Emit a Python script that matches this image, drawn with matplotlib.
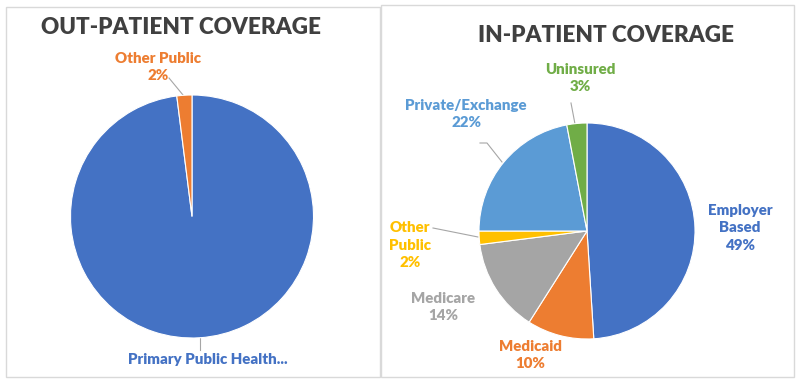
import matplotlib.pyplot as plt
from matplotlib.patches import Rectangle

plt.rcParams['font.family'] = ['Lato', 'DejaVu Sans']

# Out-patient coverage
out_labels = ['Primary Public Health...', 'Other Public']
out_values = [98, 2]
out_colors = ['#4472C4', '#ED7D31']

# In-patient coverage
in_labels = ['Employer\nBased', 'Medicaid', 'Medicare', 'Other\nPublic', 'Private/Exchange', 'Uninsured']
in_values = [49, 10, 14, 2, 22, 3]
in_colors = ['#4472C4', '#ED7D31', '#A5A5A5', '#FFC000', '#5B9BD5', '#70AD47']

W, H = 806, 387
fig = plt.figure(figsize=(W / 100, H / 100), dpi=100)


def pie_axes(cx, cy, r):
    # cx, cy, r in pixels (y from the top)
    return fig.add_axes([(cx - r) / W, (H - cy - r) / H, 2 * r / W, 2 * r / H])


def fit(ax):
    ax.set_xlim(-1, 1)
    ax.set_ylim(-1, 1)
    ax.axis('off')


# overlay in pixel coordinates for boxes, titles, labels, leader lines
ov = fig.add_axes([0, 0, 1, 1])
ov.set_xlim(0, W)
ov.set_ylim(H, 0)
ov.axis('off')
ov.add_patch(Rectangle((6, 7), 374, 370, fill=False, ec='#d9d9d9', lw=1))
ov.add_patch(Rectangle((381, 5), 413, 372, fill=False, ec='#d9d9d9', lw=1))

ax1 = pie_axes(192, 216.5, 121.5)
ax1.pie(out_values, colors=out_colors, startangle=90, counterclock=False, radius=1,
        wedgeprops=dict(edgecolor='white', linewidth=0.8))
fit(ax1)

ax2 = pie_axes(587, 231, 108)
ax2.pie(in_values, colors=in_colors, startangle=90, counterclock=False, radius=1,
        wedgeprops=dict(edgecolor='white', linewidth=0.8))
fit(ax2)

title_kw = dict(fontsize=16.2, fontweight='heavy', color='#404040', ha='center', va='center')
ov.text(181, 28, 'OUT-PATIENT COVERAGE', **title_kw)
ov.text(606, 36, 'IN-PATIENT COVERAGE', **title_kw)

lab_kw = dict(fontsize=10.8, fontweight='heavy', ha='center', va='center', linespacing=1.45)


def label(x, y, name, val, color):
    ov.text(x, y, f'{name}\n{val}%', color=color, **lab_kw)


def leader(xs, ys):
    ov.plot(xs, ys, color='#a6a6a6', lw=0.8)


# out-patient labels
label(158, 67, out_labels[1], out_values[1], out_colors[1])
leader([169, 183], [78, 95])
ov.text(208, 360, out_labels[0], color=out_colors[0], **lab_kw)
leader([200, 200], [338, 350])

# in-patient labels
pos = [(740, 228), (530, 355), (443, 307), (410, 245), (466, 114), (580, 78)]
for (x, y), name, val, c in zip(pos, in_labels, in_values, in_colors):
    label(x, y, name, val, c)
leader([571, 575], [103, 124])
leader([480, 487, 502], [143, 143, 162])
leader([433, 478], [228, 237])

fig.savefig('out.png', dpi=100, facecolor='white')
